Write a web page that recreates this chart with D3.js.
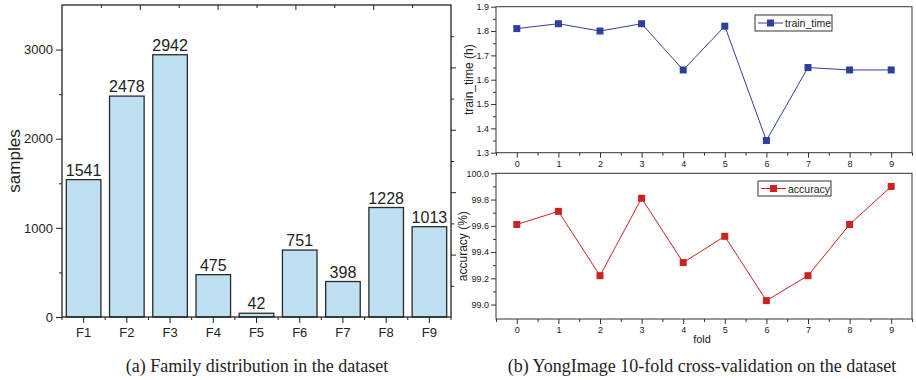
<!DOCTYPE html>
<html><head><meta charset="utf-8">
<script src="https://cdn.jsdelivr.net/npm/d3@7"></script>
<style>
body{margin:0;background:#fff;}
svg{display:block;}
text{font-family:"Liberation Sans",Arial,sans-serif;fill:#222;}
.cap{font-family:"Liberation Serif","Times New Roman",serif;font-size:18px;}
</style></head>
<body><svg id="c" width="916" height="380"></svg>
<script>
const families = ["F1","F2","F3","F4","F5","F6","F7","F8","F9"];
const samples = [1541,2478,2942,475,42,751,398,1228,1013];
const samplesTicks = [0,1000,2000,3000];
const folds = [0,1,2,3,4,5,6,7,8,9];
const trainTime = [1.81,1.83,1.80,1.83,1.64,1.82,1.35,1.65,1.64,1.64];
const accuracy = [99.61,99.71,99.22,99.81,99.32,99.52,99.03,99.22,99.61,99.90];
const trainTicks = [1.3,1.4,1.5,1.6,1.7,1.8,1.9];
const accTicks = [99.0,99.2,99.4,99.6,99.8,100.0];

const svg = d3.select("#c");
const axisCol = "#222";

// ---------- Panel (a) ----------
const A = {l:62,r:451,t:5,b:317};
const xb = d3.scaleBand().domain(families).range([A.l,A.r]).paddingInner(0.2).paddingOuter(0.1);
const ya = d3.scaleLinear().domain([0,3500]).range([A.b,A.t]);
const ga = svg.append("g");

ga.selectAll("rect.bar").data(samples).join("rect").attr("class","bar")
  .attr("x",(d,i)=>xb(families[i])).attr("width",xb.bandwidth())
  .attr("y",d=>ya(d)).attr("height",d=>ya(0)-ya(d))
  .attr("fill","#bfe0f2").attr("stroke","#2a2a2a").attr("stroke-width",1.3);

ga.selectAll("text.val").data(samples).join("text").attr("class","val")
  .attr("x",(d,i)=>xb(families[i])+xb.bandwidth()/2).attr("y",d=>ya(d)-4)
  .attr("text-anchor","middle").attr("font-size",16).text(d=>d);

// frame
ga.append("rect").attr("x",A.l).attr("y",A.t).attr("width",A.r-A.l).attr("height",A.b-A.t)
  .attr("fill","none").attr("stroke",axisCol).attr("stroke-width",1.3);

// left axis
const la = ga.append("g").attr("transform",`translate(${A.l},0)`)
  .call(d3.axisLeft(ya).tickValues(samplesTicks).tickSize(6).tickPadding(3).tickFormat(d3.format("d")));
la.select(".domain").remove();
la.selectAll("text").attr("font-size",13).style("font-family","Liberation Sans, Arial, sans-serif").attr("fill","#222");
la.selectAll("line").attr("stroke",axisCol);
ga.append("g").attr("transform",`translate(${A.l},0)`)
  .call(d3.axisLeft(ya).tickValues([500,1500,2500]).tickSize(3).tickFormat(""))
  .call(g=>g.select(".domain").remove()).selectAll("line").attr("stroke",axisCol);

// bottom axis
const ba = ga.append("g").attr("transform",`translate(0,${A.b})`)
  .call(d3.axisBottom(xb).tickSize(6).tickPadding(5));
ba.select(".domain").remove();
ba.selectAll("text").attr("font-size",13).style("font-family","Liberation Sans, Arial, sans-serif").attr("fill","#222");
ba.selectAll("line").attr("stroke",axisCol);
const step = xb.step();
const bounds = d3.range(families.length+1).map(i=>xb(families[0]) - step*xb.paddingInner()/2 + i*step);
ga.append("g").selectAll("line").data(bounds).join("line")
  .attr("x1",d=>d).attr("x2",d=>d).attr("y1",A.b).attr("y2",A.b+3).attr("stroke",axisCol);

// top and right decorative axes (inward ticks)
const xt = d3.scaleLinear().domain([0,10]).range([A.l,A.r]);
ga.append("g").attr("transform",`translate(0,${A.t})`)
  .call(d3.axisBottom(xt).tickValues(d3.range(1,10)).tickSizeInner(0).tickFormat(""))
  .call(g=>{g.select(".domain").remove(); g.selectAll(".tick line").attr("y2",(d)=>d%2===0?5:3).attr("stroke",axisCol);});
const yr = d3.scaleLinear().domain([0,10]).range([A.b,A.t]);
ga.append("g").attr("transform",`translate(${A.r},0)`)
  .call(d3.axisLeft(yr).tickValues(d3.range(1,10)).tickFormat(""))
  .call(g=>{g.select(".domain").remove(); g.selectAll(".tick line").attr("x2",(d)=>d%2===0?5:3).attr("stroke",axisCol);});

ga.append("text").attr("transform",`translate(20,${(A.t+A.b)/2}) rotate(-90)`)
  .attr("text-anchor","middle").attr("font-size",17).text("samples");
ga.append("text").attr("class","cap").attr("x",257).attr("y",372).attr("text-anchor","middle")
  .text("(a) Family distribution in the dataset");

// ---------- Panel (b) ----------
const xf = d3.scaleLinear().domain([-0.5,9.5]).range([496,912]);
function linePanel(top,bottom,yDomain,ticks,minorTicks,vals,color,label,yLabel,labelX,legendBox,fmt){
  const y = d3.scaleLinear().domain(yDomain).range([bottom,top]);
  const g = svg.append("g");
  g.append("rect").attr("x",xf.range()[0]).attr("y",top).attr("width",xf.range()[1]-xf.range()[0])
    .attr("height",bottom-top).attr("fill","none").attr("stroke","#333").attr("stroke-width",1);
  const yl = g.append("g").attr("transform",`translate(${xf.range()[0]},0)`)
    .call(d3.axisLeft(y).tickValues(ticks).tickSize(5).tickPadding(2).tickFormat(d3.format(fmt)));
  yl.select(".domain").remove();
  yl.selectAll("text").attr("font-size",9).attr("fill","#333");
  yl.selectAll("line").attr("stroke","#333");
  g.append("g").attr("transform",`translate(${xf.range()[0]},0)`)
    .call(d3.axisLeft(y).tickValues(minorTicks).tickSize(3).tickFormat(""))
    .call(a=>a.select(".domain").remove()).selectAll("line").attr("stroke","#333");
  const xa = g.append("g").attr("transform",`translate(0,${bottom})`)
    .call(d3.axisBottom(xf).tickValues(folds).tickSize(5).tickPadding(3).tickFormat(d3.format("d")));
  xa.select(".domain").remove();
  xa.selectAll("text").attr("font-size",9).attr("fill","#333");
  xa.selectAll("line").attr("stroke","#333");
  g.append("g").attr("transform",`translate(0,${bottom})`)
    .call(d3.axisBottom(xf).tickValues(folds.map(d=>d-0.5).concat([9.5])).tickSize(3).tickFormat(""))
    .call(a=>a.select(".domain").remove()).selectAll("line").attr("stroke","#333");

  const line = d3.line().x((d,i)=>xf(folds[i])).y(d=>y(d));
  g.append("path").datum(vals).attr("d",line).attr("fill","none").attr("stroke",color).attr("stroke-width",1);
  g.selectAll("rect.m").data(vals).join("rect").attr("class","m")
    .attr("x",(d,i)=>xf(folds[i])-3.5).attr("y",d=>y(d)-3.5).attr("width",7).attr("height",7).attr("fill",color);

  g.append("text").attr("transform",`translate(${labelX},${(top+bottom)/2}) rotate(-90)`)
    .attr("text-anchor","middle").attr("font-size",12).attr("fill","#333").text(yLabel);

  // legend
  const [lx,ly,lw,lh] = legendBox;
  g.append("rect").attr("x",lx).attr("y",ly).attr("width",lw).attr("height",lh)
    .attr("fill","#fff").attr("stroke","#333").attr("stroke-width",1);
  g.append("line").attr("x1",lx+3).attr("x2",lx+28).attr("y1",ly+lh/2).attr("y2",ly+lh/2)
    .attr("stroke",color).attr("stroke-width",1);
  g.append("rect").attr("x",lx+15.5-3.5).attr("y",ly+lh/2-3.5).attr("width",7).attr("height",7).attr("fill",color);
  g.append("text").attr("x",lx+30).attr("y",ly+lh/2+4).attr("font-size",10.5).attr("fill","#333").text(label);
  return g;
}
linePanel(6.7,152.7,[1.3,1.9],trainTicks,[1.35,1.45,1.55,1.65,1.75,1.85],trainTime,"#2e3f9e","train_time","train_time (h)",473,[755,15,77,16],".1f");
linePanel(173.3,319,[98.89,100.0],accTicks,[99.1,99.3,99.5,99.7,99.9],accuracy,"#cc2222","accuracy","accuracy (%)",467,[758,181,73,15],".1f");

svg.append("text").attr("x",702).attr("y",343).attr("text-anchor","middle").attr("font-size",11).attr("fill","#333").text("fold");
svg.append("text").attr("class","cap").attr("x",702).attr("y",372).attr("text-anchor","middle")
  .text("(b) YongImage 10-fold cross-validation on the dataset");
</script></body></html>
